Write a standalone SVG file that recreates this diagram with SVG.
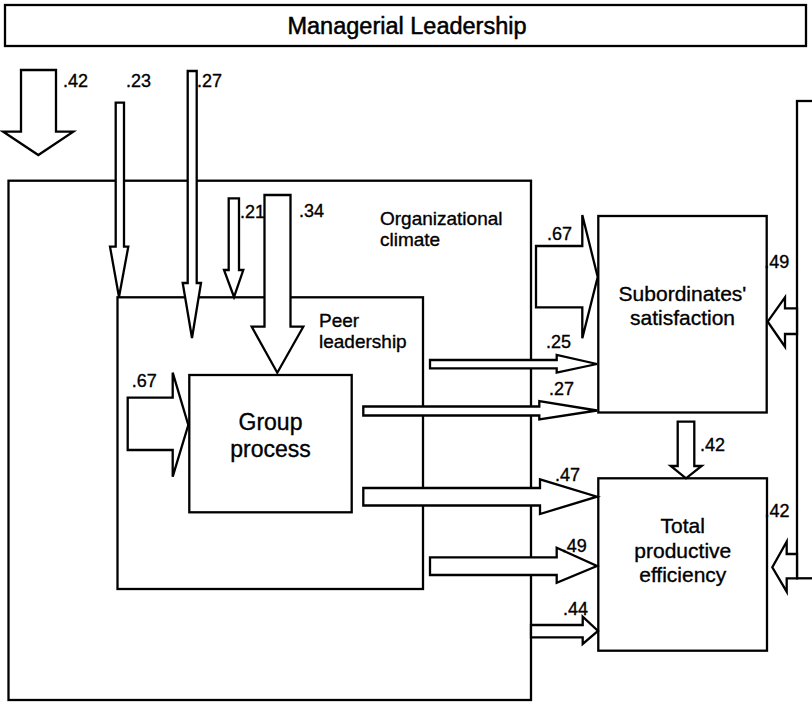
<svg xmlns="http://www.w3.org/2000/svg" width="812" height="703" viewBox="0 0 812 703">
<style>
.box{fill:#fff;stroke:#000;stroke-width:2.3}
.arr{fill:#fff;stroke:#000;stroke-width:2.3;stroke-linejoin:miter}
text{font-family:"Liberation Sans",Arial,sans-serif;fill:#000;stroke:#000;stroke-width:0.35}
.lbl{font-size:18px}
.mid{font-size:19px}
.big{font-size:21px;text-anchor:middle}
.gp{font-size:23px;text-anchor:middle}
</style>
<rect width="812" height="703" fill="#fff"/>
<g id="managerial">
<rect class="box" x="5" y="5" width="801" height="41"/>
<text x="407" y="34" style="font-size:23.5px;text-anchor:middle;stroke-width:0.5">Managerial Leadership</text>
</g>
<g id="organizational">
<rect class="box" x="8.5" y="180.7" width="522.5" height="519.3"/>
<text class="mid" x="380" y="225">Organizational</text>
<text class="mid" x="380" y="246">climate</text>
</g>
<g id="peer">
<rect class="box" x="117.5" y="297.3" width="305.5" height="291.7"/>
<text class="mid" x="319" y="327">Peer</text>
<text class="mid" x="319" y="348">leadership</text>
</g>
<g id="group">
<rect class="box" x="189.3" y="375" width="162.4" height="137.3"/>
<text class="gp" x="270.5" y="430">Group</text>
<text class="gp" x="270.5" y="457">process</text>
</g>
<g id="subordinates">
<rect class="box" x="598.3" y="216" width="168.4" height="196.5"/>
<text class="big" x="682.5" y="301">Subordinates'</text>
<text class="big" x="682.5" y="325">satisfaction</text>
</g>
<g id="total">
<rect class="box" x="598.3" y="478.3" width="168.7" height="172.4"/>
<text class="big" x="682.8" y="533">Total</text>
<text class="big" x="682.8" y="558">productive</text>
<text class="big" x="682.8" y="582">efficiency</text>
</g>
<g id="rightbox">
<rect class="box" x="797" y="101" width="40" height="477.3"/>
</g>
<g id="connectors">
<polygon class="arr" points="21,70 56,70 56,131.7 73.3,131.7 38.3,155 3.3,131.7 21,131.7"/>
<polygon class="arr" points="115.7,102.7 124,102.7 124,246.7 128.3,246.7 119,297 110,246.7 115.7,246.7"/>
<polygon class="arr" points="187.7,71 196.7,71 196.7,283 201,283 192,338 182.7,283 187.7,283"/>
<polygon class="arr" points="228.7,198.3 239,198.3 239,270 243.3,270 234,297 224,270 228.7,270"/>
<polygon class="arr" points="264.5,195 290.5,195 290.5,326.7 303.3,326.7 277.3,372.7 251.7,326.7 264.5,326.7"/>
<polygon class="arr" points="127.7,397.7 172.7,397.7 172.7,372.7 188.3,425 172.7,476.7 172.7,450 127.7,450"/>
<polygon class="arr" points="536,246 582.3,246 582.3,215 597.7,277 582.3,338.3 582.3,307.3 536,307.3"/>
<polygon class="arr" points="430,360 556.7,360 556.7,355 597,364 556.7,372.7 556.7,368.3 430,368.3"/>
<polygon class="arr" points="363.3,406.5 539.3,406.5 539.3,401 597,410.5 539.3,419.3 539.3,415.5 363.3,415.5"/>
<polygon class="arr" points="363.3,488 540,488 540,479.3 597,496.7 540,514 540,505.5 363.3,505.5"/>
<polygon class="arr" points="430,557.3 556.7,557.3 556.7,547.7 597,566 556.7,582.7 556.7,575 430,575"/>
<polygon class="arr" points="531,625 582.7,625 582.7,616.7 598,631 582.7,644 582.7,637.3 531,637.3"/>
<polygon class="arr" points="677.7,421.7 694.3,421.7 694.3,466 701.7,466 686,478.3 670.7,466 677.7,466"/>
<polygon class="arr" points="767.7,321.7 785,297.3 785,308.3 797,308.3 797,334 785,334 785,346.7"/>
<polygon class="arr" points="772.3,567.3 786.7,541.7 786.7,554 797,554 797,578.3 786.7,578.3 786.7,591.7"/>
</g>
<g id="labels">
<text class="lbl" x="63" y="87">.42</text>
<text class="lbl" x="126" y="87">.23</text>
<text class="lbl" x="197" y="87">.27</text>
<text class="lbl" x="240" y="218">.21</text>
<text class="lbl" x="299" y="217">.34</text>
<text class="lbl" x="131.7" y="387">.67</text>
<text class="lbl" x="547" y="240">.67</text>
<text class="lbl" x="546" y="348">.25</text>
<text class="lbl" x="549" y="395">.27</text>
<text class="lbl" x="555" y="481">.47</text>
<text class="lbl" x="561.7" y="552">.49</text>
<text class="lbl" x="563" y="615">.44</text>
<text class="lbl" x="700" y="451">.42</text>
<text class="lbl" x="764.2" y="268">.49</text>
<text class="lbl" x="764.5" y="517">.42</text>
</g>
</svg>
